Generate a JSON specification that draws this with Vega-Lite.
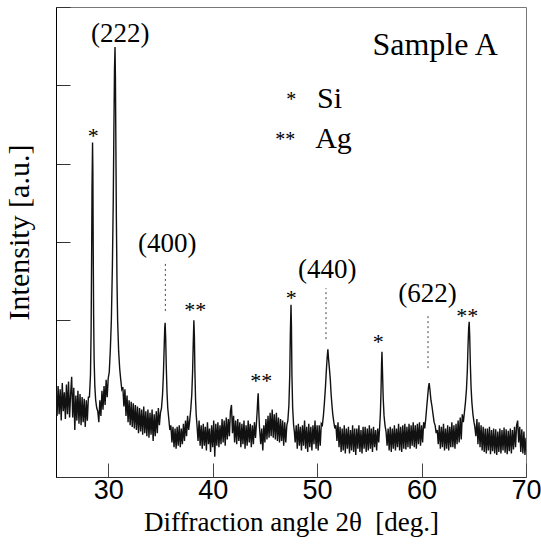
{
"$schema": "https://vega.github.io/schema/vega-lite/v6.json",
"width": 470, "height": 470,
"autosize": {"type": "none"},
"padding": {"left": 56, "top": 7, "right": 15, "bottom": 74},
"background": "white",
"datasets": {
"spectrum": [
{"x":25.0,"y":1.10},{"x":25.1,"y":0.78},{"x":25.2,"y":1.16},{"x":25.3,"y":0.80},{"x":25.4,"y":1.12},{"x":25.5,"y":0.72},{"x":25.6,"y":1.20},{"x":25.7,"y":0.84},{"x":25.8,"y":1.08},{"x":25.9,"y":0.74},
{"x":26.0,"y":1.18},{"x":26.1,"y":0.80},{"x":26.2,"y":1.22},{"x":26.3,"y":0.76},{"x":26.4,"y":1.06},{"x":26.5,"y":1.28},{"x":26.6,"y":0.76},{"x":26.7,"y":1.14},{"x":26.8,"y":0.60},{"x":26.9,"y":1.04},
{"x":27.0,"y":0.72},{"x":27.1,"y":1.10},{"x":27.2,"y":0.68},{"x":27.3,"y":1.06},{"x":27.4,"y":0.66},{"x":27.5,"y":1.02},{"x":27.6,"y":0.70},{"x":27.7,"y":1.00},{"x":27.8,"y":0.64},{"x":27.9,"y":0.98},
{"x":28.0,"y":0.72},{"x":28.1,"y":1.02},
{"x":28.2,"y":1.02},{"x":28.3,"y":1.3},{"x":28.36,"y":1.85},{"x":28.41,"y":2.8},{"x":28.45,"y":3.7},{"x":28.5,"y":4.27},{"x":28.53,"y":3.9},{"x":28.56,"y":3.0},{"x":28.6,"y":2.1},{"x":28.65,"y":1.5},{"x":28.72,"y":1.15},{"x":28.8,"y":0.98},{"x":28.9,"y":0.88},{"x":29.0,"y":0.84},
{"x":29.1,"y":0.70},{"x":29.2,"y":0.98},{"x":29.3,"y":0.78},{"x":29.4,"y":1.10},{"x":29.5,"y":0.86},{"x":29.6,"y":1.16},{"x":29.7,"y":0.92},{"x":29.8,"y":1.24},{"x":29.9,"y":1.02},
{"x":30.0,"y":1.26},{"x":30.1,"y":1.34},{"x":30.2,"y":1.62},{"x":30.3,"y":2.0},{"x":30.4,"y":2.7},{"x":30.48,"y":3.5},{"x":30.54,"y":4.4},{"x":30.6,"y":5.2},{"x":30.65,"y":5.49},{"x":30.69,"y":5.1},{"x":30.73,"y":4.3},{"x":30.78,"y":3.3},{"x":30.84,"y":2.5},{"x":30.9,"y":2.0},{"x":31.0,"y":1.6},{"x":31.1,"y":1.38},{"x":31.2,"y":1.24},{"x":31.3,"y":1.12},{"x":31.4,"y":1.15},
{"x":31.5,"y":0.90},{"x":31.6,"y":1.12},{"x":31.7,"y":0.78},{"x":31.8,"y":1.04},{"x":31.9,"y":0.70},{"x":32.0,"y":0.98},{"x":32.1,"y":0.66},{"x":32.2,"y":0.96},{"x":32.3,"y":0.64},{"x":32.4,"y":0.94},
{"x":32.5,"y":0.62},{"x":32.6,"y":0.92},{"x":32.7,"y":0.60},{"x":32.8,"y":0.90},{"x":32.9,"y":0.56},{"x":33.0,"y":0.88},{"x":33.1,"y":0.58},{"x":33.2,"y":0.86},{"x":33.3,"y":0.54},{"x":33.4,"y":0.90},
{"x":33.5,"y":0.56},{"x":33.6,"y":0.84},{"x":33.7,"y":0.52},{"x":33.8,"y":0.86},{"x":33.9,"y":0.50},{"x":34.0,"y":0.82},{"x":34.1,"y":0.54},{"x":34.2,"y":0.86},{"x":34.3,"y":0.46},{"x":34.4,"y":0.80},
{"x":34.5,"y":0.52},{"x":34.6,"y":0.84},{"x":34.7,"y":0.56},{"x":34.8,"y":0.88},{"x":34.9,"y":0.66},
{"x":35.0,"y":0.82},{"x":35.1,"y":0.88},{"x":35.2,"y":1.05},{"x":35.28,"y":1.3},{"x":35.35,"y":1.62},{"x":35.41,"y":1.9},{"x":35.45,"y":1.97},{"x":35.5,"y":1.78},{"x":35.56,"y":1.4},{"x":35.63,"y":1.08},{"x":35.7,"y":0.88},{"x":35.8,"y":0.74},{"x":35.9,"y":0.60},
{"x":36.0,"y":0.66},{"x":36.1,"y":0.44},{"x":36.2,"y":0.64},{"x":36.3,"y":0.38},{"x":36.4,"y":0.62},{"x":36.5,"y":0.36},{"x":36.6,"y":0.64},{"x":36.7,"y":0.40},{"x":36.8,"y":0.66},{"x":36.9,"y":0.38},
{"x":37.0,"y":0.62},{"x":37.1,"y":0.42},{"x":37.2,"y":0.68},{"x":37.3,"y":0.46},{"x":37.4,"y":0.72},{"x":37.5,"y":0.52},{"x":37.6,"y":0.78},{"x":37.7,"y":0.60},
{"x":37.8,"y":0.72},{"x":37.9,"y":0.86},{"x":38.0,"y":1.05},{"x":38.08,"y":1.35},{"x":38.14,"y":1.7},{"x":38.2,"y":2.0},{"x":38.25,"y":1.8},{"x":38.3,"y":1.35},{"x":38.36,"y":1.0},{"x":38.42,"y":0.8},{"x":38.5,"y":0.66},
{"x":38.6,"y":0.46},{"x":38.7,"y":0.72},{"x":38.8,"y":0.40},{"x":38.9,"y":0.66},{"x":39.0,"y":0.36},{"x":39.1,"y":0.68},{"x":39.2,"y":0.40},{"x":39.3,"y":0.64},{"x":39.4,"y":0.34},{"x":39.5,"y":0.70},
{"x":39.6,"y":0.42},{"x":39.7,"y":0.62},{"x":39.8,"y":0.32},{"x":39.9,"y":0.66},{"x":40.0,"y":0.38},{"x":40.1,"y":0.72},{"x":40.2,"y":0.26},{"x":40.3,"y":0.68},{"x":40.4,"y":0.40},{"x":40.5,"y":0.70},
{"x":40.6,"y":0.38},{"x":40.7,"y":0.66},{"x":40.8,"y":0.42},{"x":40.9,"y":0.74},{"x":41.0,"y":0.44},{"x":41.1,"y":0.72},{"x":41.2,"y":0.40},{"x":41.3,"y":0.76},{"x":41.4,"y":0.48},{"x":41.5,"y":0.74},
{"x":41.6,"y":0.52},{"x":41.7,"y":0.84},{"x":41.8,"y":0.92},{"x":41.9,"y":0.56},{"x":42.0,"y":0.78},{"x":42.1,"y":0.44},{"x":42.2,"y":0.72},{"x":42.3,"y":0.42},{"x":42.4,"y":0.74},{"x":42.5,"y":0.46},
{"x":42.6,"y":0.70},{"x":42.7,"y":0.38},{"x":42.8,"y":0.68},{"x":42.9,"y":0.42},{"x":43.0,"y":0.72},{"x":43.1,"y":0.36},{"x":43.2,"y":0.66},{"x":43.3,"y":0.40},{"x":43.4,"y":0.72},{"x":43.5,"y":0.44},
{"x":43.6,"y":0.68},{"x":43.7,"y":0.38},{"x":43.8,"y":0.66},{"x":43.9,"y":0.42},{"x":44.0,"y":0.70},{"x":44.1,"y":0.50},
{"x":44.18,"y":0.66},{"x":44.26,"y":0.84},{"x":44.32,"y":1.0},{"x":44.36,"y":1.07},{"x":44.41,"y":0.86},{"x":44.48,"y":0.64},
{"x":44.6,"y":0.42},{"x":44.7,"y":0.62},{"x":44.8,"y":0.34},{"x":44.9,"y":0.66},{"x":45.0,"y":0.44},{"x":45.1,"y":0.74},{"x":45.2,"y":0.48},{"x":45.3,"y":0.78},{"x":45.4,"y":0.50},{"x":45.5,"y":0.82},
{"x":45.6,"y":0.52},{"x":45.7,"y":0.86},{"x":45.8,"y":0.50},{"x":45.9,"y":0.80},{"x":46.0,"y":0.48},{"x":46.1,"y":0.82},{"x":46.2,"y":0.46},{"x":46.3,"y":0.76},{"x":46.4,"y":0.44},{"x":46.5,"y":0.74},
{"x":46.6,"y":0.46},{"x":46.7,"y":0.72},{"x":46.8,"y":0.40},{"x":46.9,"y":0.70},{"x":47.0,"y":0.44},{"x":47.1,"y":0.66},
{"x":47.2,"y":0.72},{"x":47.3,"y":0.92},{"x":47.38,"y":1.3},{"x":47.44,"y":1.85},{"x":47.5,"y":2.2},{"x":47.54,"y":1.95},{"x":47.59,"y":1.3},{"x":47.66,"y":0.88},{"x":47.75,"y":0.66},{"x":47.82,"y":0.58},
{"x":47.9,"y":0.44},{"x":48.0,"y":0.66},{"x":48.1,"y":0.36},{"x":48.2,"y":0.68},{"x":48.3,"y":0.40},{"x":48.4,"y":0.64},{"x":48.5,"y":0.34},{"x":48.6,"y":0.66},{"x":48.7,"y":0.40},{"x":48.8,"y":0.72},
{"x":48.9,"y":0.36},{"x":49.0,"y":0.64},{"x":49.1,"y":0.32},{"x":49.2,"y":0.68},{"x":49.3,"y":0.38},{"x":49.4,"y":0.64},{"x":49.5,"y":0.34},{"x":49.6,"y":0.66},{"x":49.7,"y":0.42},{"x":49.8,"y":0.72},
{"x":49.9,"y":0.36},{"x":50.0,"y":0.66},{"x":50.1,"y":0.34},{"x":50.2,"y":0.66},{"x":50.3,"y":0.40},{"x":50.4,"y":0.68},
{"x":50.5,"y":0.66},{"x":50.6,"y":0.78},{"x":50.7,"y":0.95},{"x":50.8,"y":1.15},{"x":50.88,"y":1.35},{"x":50.96,"y":1.52},{"x":51.03,"y":1.63},{"x":51.1,"y":1.5},{"x":51.18,"y":1.38},{"x":51.26,"y":1.25},{"x":51.34,"y":1.06},{"x":51.42,"y":0.92},{"x":51.5,"y":0.8},{"x":51.6,"y":0.7},{"x":51.7,"y":0.62},{"x":51.8,"y":0.66},
{"x":51.9,"y":0.46},{"x":52.0,"y":0.70},{"x":52.1,"y":0.38},{"x":52.2,"y":0.64},{"x":52.3,"y":0.32},{"x":52.4,"y":0.62},{"x":52.5,"y":0.34},{"x":52.6,"y":0.66},{"x":52.7,"y":0.30},{"x":52.8,"y":0.62},
{"x":52.9,"y":0.36},{"x":53.0,"y":0.64},{"x":53.1,"y":0.30},{"x":53.2,"y":0.60},{"x":53.3,"y":0.34},{"x":53.4,"y":0.66},{"x":53.5,"y":0.32},{"x":53.6,"y":0.62},{"x":53.7,"y":0.28},{"x":53.8,"y":0.62},
{"x":53.9,"y":0.36},{"x":54.0,"y":0.66},{"x":54.1,"y":0.32},{"x":54.2,"y":0.60},{"x":54.3,"y":0.30},{"x":54.4,"y":0.64},{"x":54.5,"y":0.36},{"x":54.6,"y":0.64},{"x":54.7,"y":0.32},{"x":54.8,"y":0.62},
{"x":54.9,"y":0.34},{"x":55.0,"y":0.66},{"x":55.1,"y":0.36},{"x":55.2,"y":0.62},{"x":55.3,"y":0.32},{"x":55.4,"y":0.64},{"x":55.5,"y":0.38},{"x":55.6,"y":0.60},{"x":55.7,"y":0.34},{"x":55.8,"y":0.62},{"x":55.9,"y":0.44},
{"x":55.98,"y":0.62},{"x":56.06,"y":0.82},{"x":56.12,"y":1.1},{"x":56.17,"y":1.45},{"x":56.21,"y":1.6},{"x":56.26,"y":1.35},{"x":56.33,"y":1.0},{"x":56.41,"y":0.78},{"x":56.5,"y":0.66},{"x":56.6,"y":0.58},
{"x":56.7,"y":0.40},{"x":56.8,"y":0.62},{"x":56.9,"y":0.34},{"x":57.0,"y":0.64},{"x":57.1,"y":0.32},{"x":57.2,"y":0.62},{"x":57.3,"y":0.36},{"x":57.4,"y":0.66},{"x":57.5,"y":0.34},{"x":57.6,"y":0.62},
{"x":57.7,"y":0.38},{"x":57.8,"y":0.68},{"x":57.9,"y":0.34},{"x":58.0,"y":0.64},{"x":58.1,"y":0.32},{"x":58.2,"y":0.66},{"x":58.3,"y":0.36},{"x":58.4,"y":0.68},{"x":58.5,"y":0.35},{"x":58.6,"y":0.64},
{"x":58.7,"y":0.38},{"x":58.8,"y":0.68},{"x":58.9,"y":0.36},{"x":59.0,"y":0.66},{"x":59.1,"y":0.40},{"x":59.2,"y":0.70},{"x":59.3,"y":0.38},{"x":59.4,"y":0.66},{"x":59.5,"y":0.36},{"x":59.6,"y":0.68},
{"x":59.7,"y":0.42},{"x":59.8,"y":0.70},{"x":59.9,"y":0.40},{"x":60.0,"y":0.66},{"x":60.1,"y":0.44},{"x":60.2,"y":0.70},
{"x":60.3,"y":0.62},{"x":60.4,"y":0.74},{"x":60.5,"y":0.9},{"x":60.58,"y":1.02},{"x":60.66,"y":1.14},{"x":60.73,"y":1.2},{"x":60.8,"y":1.12},{"x":60.9,"y":0.98},{"x":61.0,"y":0.9},{"x":61.1,"y":0.8},{"x":61.2,"y":0.7},{"x":61.3,"y":0.66},{"x":61.4,"y":0.56},{"x":61.5,"y":0.6},
{"x":61.6,"y":0.42},{"x":61.7,"y":0.66},{"x":61.8,"y":0.36},{"x":61.9,"y":0.64},{"x":62.0,"y":0.38},{"x":62.1,"y":0.68},{"x":62.2,"y":0.34},{"x":62.3,"y":0.62},{"x":62.4,"y":0.36},{"x":62.5,"y":0.66},
{"x":62.6,"y":0.34},{"x":62.7,"y":0.64},{"x":62.8,"y":0.38},{"x":62.9,"y":0.70},{"x":63.0,"y":0.38},{"x":63.1,"y":0.66},{"x":63.2,"y":0.36},{"x":63.3,"y":0.68},{"x":63.4,"y":0.42},{"x":63.5,"y":0.72},
{"x":63.6,"y":0.44},{"x":63.7,"y":0.76},{"x":63.8,"y":0.48},{"x":63.9,"y":0.80},
{"x":64.0,"y":0.7},{"x":64.1,"y":0.82},{"x":64.2,"y":0.95},{"x":64.3,"y":1.12},{"x":64.38,"y":1.35},{"x":64.45,"y":1.68},{"x":64.51,"y":1.9},{"x":64.56,"y":1.98},{"x":64.61,"y":1.8},{"x":64.67,"y":1.45},{"x":64.74,"y":1.15},{"x":64.82,"y":0.95},{"x":64.92,"y":0.8},{"x":65.02,"y":0.7},{"x":65.1,"y":0.64},
{"x":65.2,"y":0.52},{"x":65.3,"y":0.74},{"x":65.4,"y":0.42},{"x":65.5,"y":0.70},{"x":65.6,"y":0.38},{"x":65.7,"y":0.66},{"x":65.8,"y":0.34},{"x":65.9,"y":0.64},{"x":66.0,"y":0.32},{"x":66.1,"y":0.62},
{"x":66.2,"y":0.30},{"x":66.3,"y":0.62},{"x":66.4,"y":0.34},{"x":66.5,"y":0.64},{"x":66.6,"y":0.29},{"x":66.7,"y":0.60},{"x":66.8,"y":0.33},{"x":66.9,"y":0.62},{"x":67.0,"y":0.30},{"x":67.1,"y":0.61},
{"x":67.2,"y":0.28},{"x":67.3,"y":0.58},{"x":67.4,"y":0.32},{"x":67.5,"y":0.62},{"x":67.6,"y":0.30},{"x":67.7,"y":0.60},{"x":67.8,"y":0.34},{"x":67.9,"y":0.63},{"x":68.0,"y":0.31},{"x":68.1,"y":0.61},
{"x":68.2,"y":0.29},{"x":68.3,"y":0.59},{"x":68.4,"y":0.33},{"x":68.5,"y":0.62},{"x":68.6,"y":0.30},{"x":68.7,"y":0.60},{"x":68.8,"y":0.35},{"x":68.9,"y":0.64},{"x":69.0,"y":0.38},{"x":69.1,"y":0.66},
{"x":69.2,"y":0.72},{"x":69.3,"y":0.44},{"x":69.4,"y":0.64},{"x":69.5,"y":0.32},{"x":69.6,"y":0.61},{"x":69.7,"y":0.30},{"x":69.8,"y":0.58},{"x":69.9,"y":0.28},{"x":70.0,"y":0.50}
],
"guides": [
{"x":35.47,"y":2.12,"y2":2.76},
{"x":50.85,"y":1.76,"y2":2.41},
{"x":60.62,"y":1.39,"y2":2.06}
],
"planes": [
{"label":"(222)","x":31.15,"y":5.55},
{"label":"(400)","x":35.65,"y":2.87},
{"label":"(440)","x":50.98,"y":2.54},
{"label":"(622)","x":60.56,"y":2.23}
],
"stars": [
{"label":"*","x":28.56,"y":4.27},
{"label":"**","x":38.33,"y":2.04},
{"label":"**","x":44.65,"y":1.13},
{"label":"*","x":47.52,"y":2.19},
{"label":"*","x":55.86,"y":1.64},
{"label":"**","x":64.38,"y":1.96}
],
"keymarks": [
{"label":"*","x":47.52,"y":4.73},
{"label":"**","x":46.95,"y":4.22}
],
"keynames": [
{"label":"Si","x":50.0,"y":4.71},
{"label":"Ag","x":49.81,"y":4.20}
],
"sample": [
{"label":"Sample A","x":55.3,"y":5.39}
]
},
"encoding": {
"x": {"field": "x", "type": "quantitative", "scale": {"domain": [25, 70], "nice": false, "zero": false},
"axis": {"values": [30,40,50,60,70], "tickSize": -14, "tickColor": "#444", "domainColor": "#333", "labelFont": "Liberation Sans", "labelFontSize": 27, "labelColor": "#000", "labelPadding": 14, "labelFlush": false, "labelOverlap": false, "grid": false,
"title": "Diffraction angle 2θ\u00a0 [deg.]", "titleFont": "Liberation Serif", "titleFontSize": 27, "titleFontWeight": "normal", "titleColor": "#000", "titleBaseline": "alphabetic", "titleY": 53}},
"y": {"field": "y", "type": "quantitative", "scale": {"domain": [0, 6], "nice": false, "zero": false},
"axis": {"values": [0,1,2,3,4,5,6], "tickSize": -14, "tickColor": "#333", "domainColor": "#000", "labels": false, "grid": false,
"title": "Intensity [a.u.]", "titleFont": "Liberation Serif", "titleFontSize": 30, "titleFontWeight": "normal", "titleColor": "#000", "titleAngle": -90, "titleBaseline": "alphabetic", "titleAlign": "center", "titleX": -28, "titleY": 225}}
},
"layer": [
{
"data": {"name": "spectrum"},
"mark": {"type": "line", "color": "#111", "strokeWidth": 1.4, "clip": true}
},
{
"data": {"name": "guides"},
"mark": {"type": "rule", "color": "#444", "strokeWidth": 1, "strokeDash": [2, 3]},
"encoding": {"y2": {"field": "y2"}}
},
{
"data": {"name": "planes"},
"mark": {"type": "text", "font": "Liberation Serif", "fontSize": 27, "color": "#000", "align": "center", "baseline": "alphabetic"},
"encoding": {"text": {"field": "label"}}
},
{
"data": {"name": "stars"},
"mark": {"type": "text", "font": "Liberation Serif", "fontSize": 22, "color": "#000", "align": "center", "baseline": "alphabetic"},
"encoding": {"text": {"field": "label"}}
},
{
"data": {"name": "keymarks"},
"mark": {"type": "text", "font": "Liberation Serif", "fontSize": 20, "color": "#000", "align": "center", "baseline": "alphabetic"},
"encoding": {"text": {"field": "label"}}
},
{
"data": {"name": "keynames"},
"mark": {"type": "text", "font": "Liberation Serif", "fontSize": 30, "color": "#000", "align": "left", "baseline": "alphabetic"},
"encoding": {"text": {"field": "label"}}
},
{
"data": {"name": "sample"},
"mark": {"type": "text", "font": "Liberation Serif", "fontSize": 32, "color": "#000", "align": "left", "baseline": "alphabetic"},
"encoding": {"text": {"field": "label"}}
}
],
"config": {"view": {"stroke": "#777", "strokeWidth": 1}}
}
